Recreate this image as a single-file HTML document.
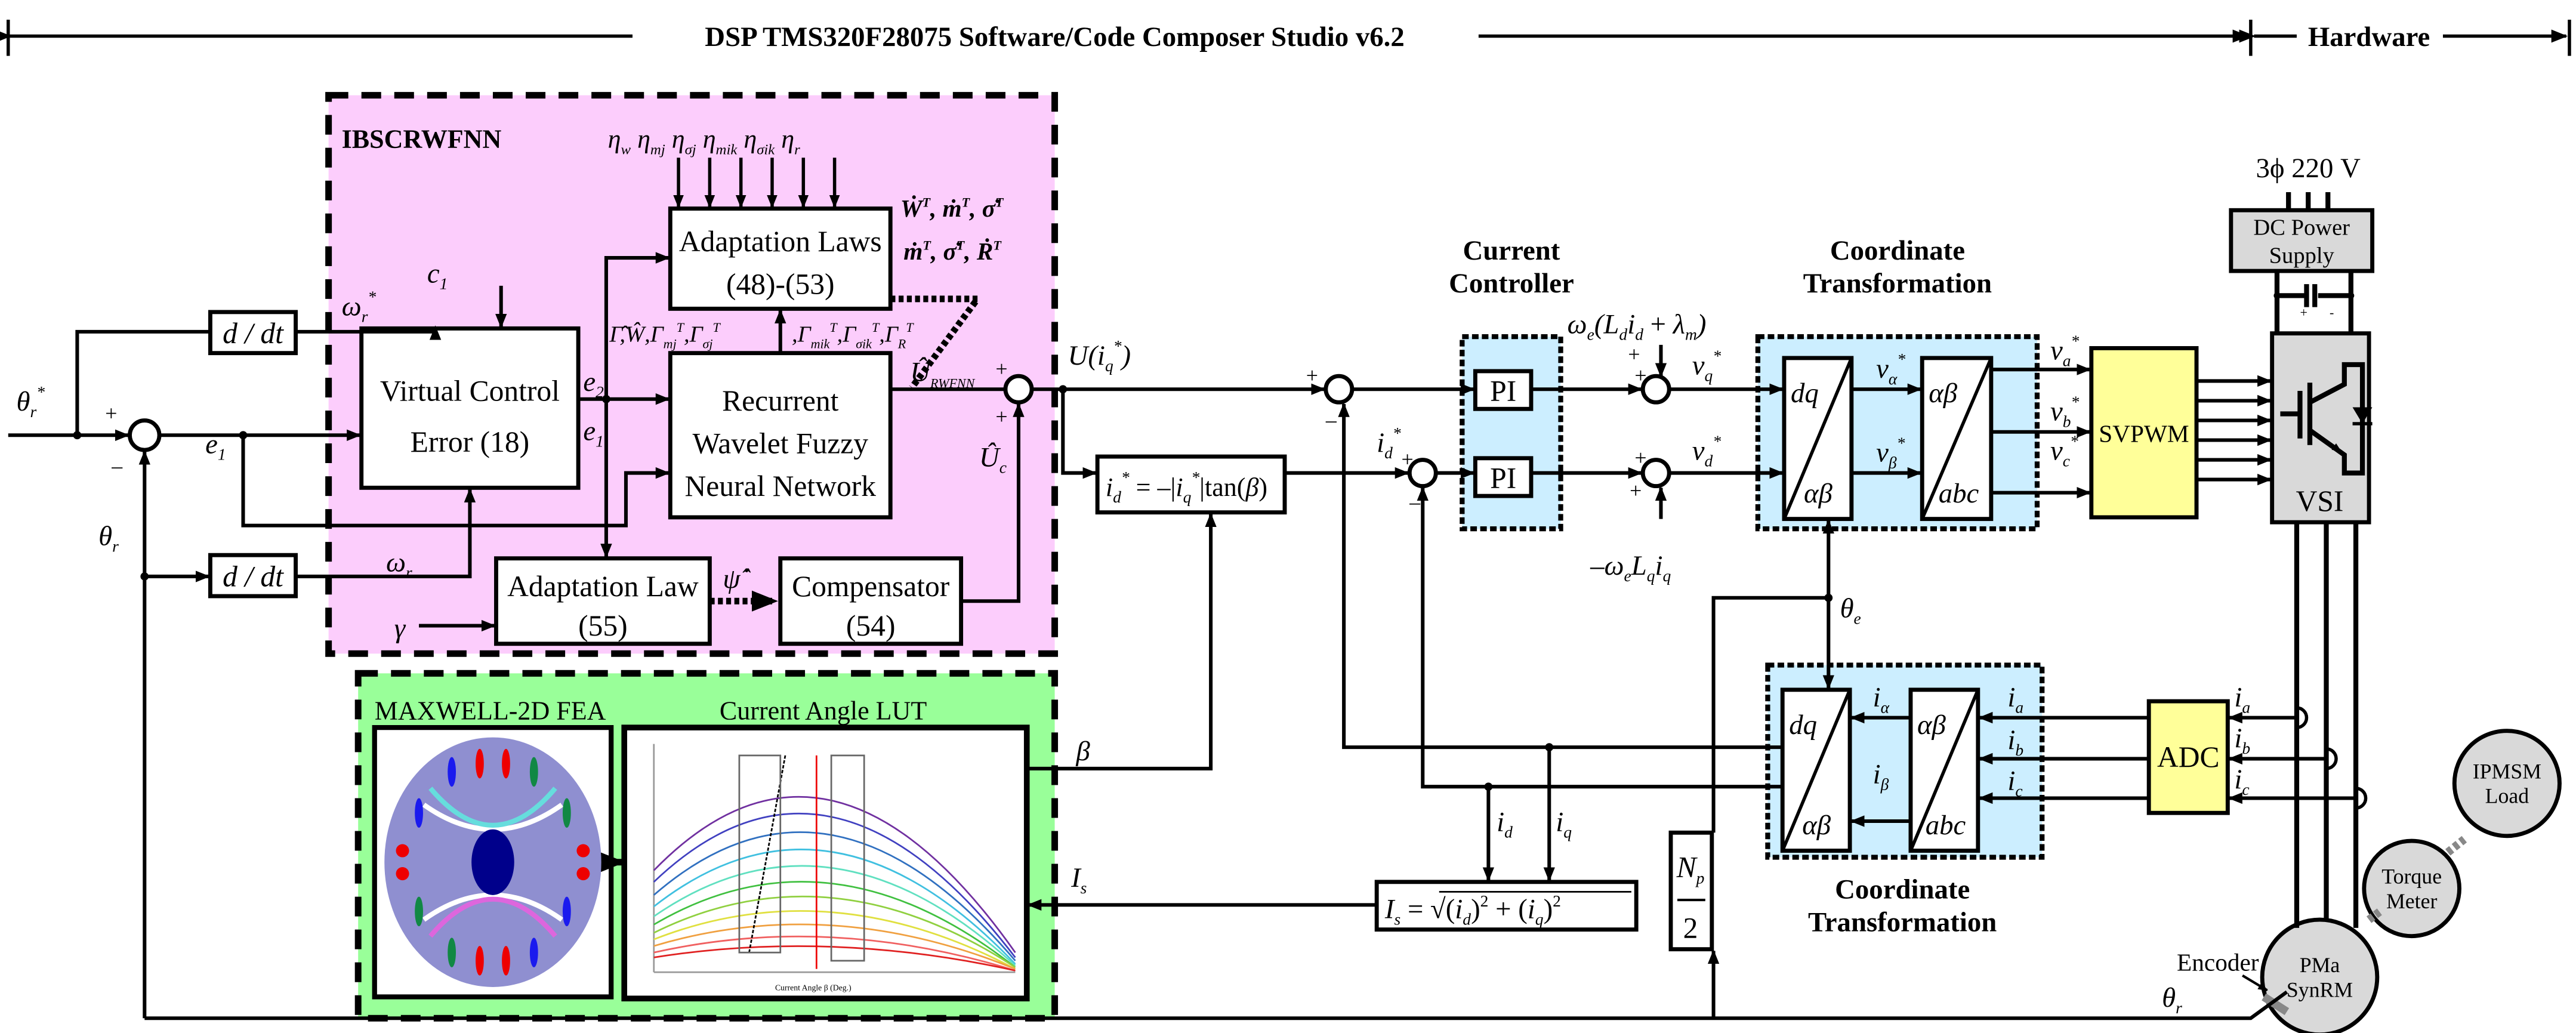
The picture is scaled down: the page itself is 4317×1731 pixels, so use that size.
<!DOCTYPE html>
<html><head><meta charset="utf-8"><style>
html,body{margin:0;padding:0;background:#fff}
svg{display:block}
text{font-family:"Liberation Serif",serif}
.i{font-style:italic}
</style></head><body>
<svg width="4317" height="1731" viewBox="0 0 1568 629" preserveAspectRatio="none" xmlns="http://www.w3.org/2000/svg">
<defs>
<marker id="a" viewBox="0 0 10 10" refX="9" refY="5" markerWidth="4" markerHeight="4" orient="auto"><path d="M0,1L10,5L0,9z" fill="#000"/></marker>
<marker id="b" viewBox="0 0 10 10" refX="9" refY="5" markerWidth="5" markerHeight="5" orient="auto"><path d="M0,1L10,5L0,9z" fill="#000"/></marker>
</defs>
<g stroke="#000" fill="none">
<line x1="5" y1="12" x2="5" y2="34" stroke-width="2"/>
<line x1="6" y1="22" x2="385" y2="22" stroke-width="2" marker-start="url(#b)"/>
<line x1="900" y1="22" x2="1368" y2="22" stroke-width="2" marker-end="url(#b)"/>
<line x1="1370" y1="12" x2="1370" y2="34" stroke-width="2"/>
<line x1="1372" y1="22" x2="1398" y2="22" stroke-width="2" marker-start="url(#b)"/>
<line x1="1487" y1="22" x2="1562" y2="22" stroke-width="2" marker-end="url(#b)"/>
<line x1="1564" y1="12" x2="1564" y2="34" stroke-width="2"/>
</g>
<text x="642" y="28" font-size="17" font-weight="bold" text-anchor="middle">DSP TMS320F28075 Software/Code Composer Studio v6.2</text>
<text x="1442" y="28" font-size="17" font-weight="bold" text-anchor="middle">Hardware</text>

<rect x="200" y="58" width="442" height="340" fill="#fccdfc" stroke="#000" stroke-width="4" stroke-dasharray="12,8"/>
<text x="208" y="90" font-size="16" font-weight="bold">IBSCRWFNN</text>
<rect x="218" y="410" width="424" height="210" fill="#99ff99" stroke="#000" stroke-width="4" stroke-dasharray="12,8"/>
<text x="228" y="438" font-size="16">MAXWELL-2D FEA</text>
<text x="438" y="438" font-size="16">Current Angle LUT</text>
<rect x="890" y="205" width="60" height="117" fill="#cceeff" stroke="#000" stroke-width="3" stroke-dasharray="4,2"/>
<rect x="1070" y="205" width="170" height="117" fill="#cceeff" stroke="#000" stroke-width="3" stroke-dasharray="4,2"/>
<rect x="1076" y="405" width="167" height="117" fill="#cceeff" stroke="#000" stroke-width="3" stroke-dasharray="4,2"/>
<text x="920" y="158" font-size="17" font-weight="bold" text-anchor="middle">Current</text>
<text x="920" y="178" font-size="17" font-weight="bold" text-anchor="middle">Controller</text>
<text x="1155" y="158" font-size="17" font-weight="bold" text-anchor="middle">Coordinate</text>
<text x="1155" y="178" font-size="17" font-weight="bold" text-anchor="middle">Transformation</text>
<text x="1158" y="547" font-size="17" font-weight="bold" text-anchor="middle">Coordinate</text>
<text x="1158" y="567" font-size="17" font-weight="bold" text-anchor="middle">Transformation</text>

<g stroke="#000" stroke-width="2.5" fill="#fff">
<rect x="128" y="190" width="52" height="25"/>
<rect x="128" y="338" width="52" height="25"/>
<rect x="220" y="200" width="132" height="97"/>
<rect x="408" y="127" width="134" height="61"/>
<rect x="408" y="215" width="134" height="100"/>
<rect x="302" y="340" width="130" height="52"/>
<rect x="475" y="340" width="110" height="52"/>
<rect x="668" y="278" width="114" height="34"/>
<rect x="898" y="226" width="34" height="23"/>
<rect x="898" y="279" width="34" height="23"/>
<rect x="1086" y="218" width="41" height="98"/>
<rect x="1170" y="218" width="42" height="98"/>
<rect x="1085" y="420" width="41" height="98"/>
<rect x="1163" y="420" width="41" height="98"/>
<rect x="838" y="537" width="158" height="29"/>
<rect x="1017" y="507" width="25" height="71"/>
<rect x="228" y="443" width="144" height="164" stroke-width="3"/>
<rect x="380" y="443" width="245" height="165" stroke-width="3.5"/>
<rect x="1273" y="212" width="64" height="103" fill="#ffff99"/>
<rect x="1308" y="427" width="48" height="68" fill="#ffff99"/>
<rect x="1383" y="203" width="59" height="115" fill="#d9d9d9"/>
<rect x="1358" y="128" width="86" height="37" fill="#d9d9d9"/>
<circle cx="88" cy="265" r="9"/>
<circle cx="620" cy="237" r="8"/>
<circle cx="815" cy="237" r="8"/>
<circle cx="866" cy="288" r="8"/>
<circle cx="1008" cy="237" r="8"/>
<circle cx="1008" cy="288" r="8"/>
<circle cx="1526" cy="477" r="32" fill="#d9d9d9"/>
<circle cx="1468" cy="541" r="29" fill="#d9d9d9"/>
<circle cx="1412" cy="595" r="35" fill="#d9d9d9"/>
</g>
<g stroke="#000" stroke-width="2">
<line x1="1086" y1="316" x2="1127" y2="218"/><line x1="1170" y1="316" x2="1212" y2="218"/>
<line x1="1085" y1="518" x2="1126" y2="420"/><line x1="1163" y1="518" x2="1204" y2="420"/>
</g>
<g stroke="#888" stroke-width="5"><line x1="1442" y1="560" x2="1450" y2="554" stroke-dasharray="3,2"/><line x1="1490" y1="519" x2="1500" y2="511" stroke-dasharray="3,2"/><line x1="1378" y1="607" x2="1392" y2="616"/></g>

<g stroke="#000" stroke-width="2.2" fill="none">
<line x1="5" y1="265" x2="78" y2="265" marker-end="url(#a)"/>
<polyline points="47,265 47,202 128,202"/>
<polyline points="180,202 265,202 265,199" marker-end="url(#a)"/>
<line x1="305" y1="174" x2="305" y2="199" marker-end="url(#a)"/>
<line x1="97" y1="265" x2="219" y2="265" marker-end="url(#a)"/>
<polyline points="148,265 148,320 381,320 381,288 407,288" marker-end="url(#a)"/>
<line x1="352" y1="243" x2="407" y2="243" marker-end="url(#a)"/>
<polyline points="369,243 369,157 407,157" marker-end="url(#a)"/>
<line x1="369" y1="243" x2="369" y2="339" marker-end="url(#a)"/>
<line x1="88" y1="620" x2="88" y2="275" marker-end="url(#a)"/>
<line x1="88" y1="351" x2="127" y2="351" marker-end="url(#a)"/>
<polyline points="180,351 286,351 286,298" marker-end="url(#a)"/>
<line x1="255" y1="381" x2="301" y2="381" marker-end="url(#a)"/>
<line x1="475" y1="215" x2="475" y2="189" marker-end="url(#a)"/>
<line x1="542" y1="237" x2="611" y2="237"/>
<polyline points="585,366 620,366 620,246" marker-end="url(#a)"/>
<line x1="628" y1="237" x2="806" y2="237" marker-end="url(#a)"/>
<polyline points="647,237 647,288 667,288" marker-end="url(#a)"/>
<line x1="782" y1="288" x2="857" y2="288" marker-end="url(#a)"/>
<line x1="823" y1="237" x2="897" y2="237" marker-end="url(#a)"/>
<line x1="874" y1="288" x2="897" y2="288" marker-end="url(#a)"/>
<line x1="932" y1="237" x2="999" y2="237" marker-end="url(#a)"/>
<line x1="932" y1="288" x2="999" y2="288" marker-end="url(#a)"/>
<line x1="1011" y1="210" x2="1011" y2="229" marker-end="url(#a)"/>
<line x1="1011" y1="316" x2="1011" y2="297" marker-end="url(#a)"/>
<line x1="1016" y1="237" x2="1085" y2="237" marker-end="url(#a)"/>
<line x1="1016" y1="288" x2="1085" y2="288" marker-end="url(#a)"/>
<line x1="1127" y1="237" x2="1169" y2="237" marker-end="url(#a)"/>
<line x1="1127" y1="288" x2="1169" y2="288" marker-end="url(#a)"/>
<line x1="1212" y1="225" x2="1272" y2="225" marker-end="url(#a)"/>
<line x1="1212" y1="263" x2="1272" y2="263" marker-end="url(#a)"/>
<line x1="1212" y1="300" x2="1272" y2="300" marker-end="url(#a)"/>
<line x1="1337" y1="232" x2="1382" y2="232" marker-end="url(#a)"/>
<line x1="1337" y1="244" x2="1382" y2="244" marker-end="url(#a)"/>
<line x1="1337" y1="256" x2="1382" y2="256" marker-end="url(#a)"/>
<line x1="1337" y1="268" x2="1382" y2="268" marker-end="url(#a)"/>
<line x1="1337" y1="280" x2="1382" y2="280" marker-end="url(#a)"/>
<line x1="1337" y1="292" x2="1382" y2="292" marker-end="url(#a)"/>
<line x1="1113" y1="364" x2="1113" y2="317" marker-end="url(#a)"/>
<line x1="1113" y1="364" x2="1113" y2="419" marker-end="url(#a)"/>
<polyline points="1113,364 1043,364 1043,507"/>
<line x1="1043" y1="620" x2="1043" y2="579" marker-end="url(#a)"/>
<polyline points="1086,455 818,455 818,246" marker-end="url(#a)"/>
<polyline points="1086,479 866,479 866,297" marker-end="url(#a)"/>
<line x1="943" y1="455" x2="943" y2="536" marker-end="url(#a)"/>
<line x1="906" y1="479" x2="906" y2="536" marker-end="url(#a)"/>
<line x1="838" y1="551" x2="626" y2="551" marker-end="url(#a)"/>
<polyline points="625,468 737,468 737,313" marker-end="url(#a)"/>
<line x1="372" y1="525" x2="379" y2="525" stroke-width="4" marker-end="url(#a)"/>
<polyline points="88,620 1370,620 1392,604"/>
<line x1="1163" y1="437" x2="1127" y2="437" marker-end="url(#a)"/>
<line x1="1163" y1="500" x2="1127" y2="500" marker-end="url(#a)"/>
<line x1="1308" y1="437" x2="1205" y2="437" marker-end="url(#a)"/>
<line x1="1308" y1="462" x2="1205" y2="462" marker-end="url(#a)"/>
<line x1="1308" y1="486" x2="1205" y2="486" marker-end="url(#a)"/>
<line x1="1398" y1="437" x2="1357" y2="437" marker-end="url(#a)"/>
<line x1="1416" y1="462" x2="1357" y2="462" marker-end="url(#a)"/>
<line x1="1434" y1="486" x2="1357" y2="486" marker-end="url(#a)"/>
<line x1="1365" y1="594" x2="1380" y2="603" stroke-width="1.5" marker-end="url(#a)"/>
</g>
<g stroke="#000" stroke-width="3" fill="none">
<line x1="1398" y1="318" x2="1398" y2="565"/>
<line x1="1416" y1="318" x2="1416" y2="561"/>
<line x1="1434" y1="318" x2="1434" y2="565"/>
<line x1="1393" y1="117" x2="1393" y2="128"/><line x1="1405" y1="117" x2="1405" y2="128"/><line x1="1417" y1="117" x2="1417" y2="128"/>
<line x1="1386" y1="165" x2="1386" y2="203"/><line x1="1431" y1="165" x2="1431" y2="203"/>
<line x1="1386" y1="180" x2="1404" y2="180"/><line x1="1411" y1="180" x2="1431" y2="180"/>
<line x1="1404" y1="173" x2="1404" y2="187"/><line x1="1409" y1="173" x2="1409" y2="187"/>
<path d="M1398,431 a6,6 0 0 1 0,12" stroke-width="2"/>
<path d="M1416,456 a6,6 0 0 1 0,12" stroke-width="2"/>
<path d="M1434,480 a6,6 0 0 1 0,12" stroke-width="2"/>
<line x1="1400" y1="238" x2="1400" y2="267"/><line x1="1406" y1="233" x2="1406" y2="271"/>
<line x1="1388" y1="252" x2="1400" y2="252"/>
<polyline points="1406,245 1427,234 1427,222 1438,222 1438,288 1427,288 1427,277 1406,262"/>
<line x1="1408" y1="263" x2="1425" y2="275" stroke-width="1.5" marker-end="url(#a)"/>
</g>
<path d="M1432,248 L1444,248 L1438,258 Z" fill="#000"/>
<line x1="1432" y1="258" x2="1444" y2="258" stroke="#000" stroke-width="2"/>
<g stroke="#000" stroke-width="4" stroke-dasharray="3,2" fill="none">
<polyline points="542,182 595,182 555,236"/>
<line x1="432" y1="366" x2="472" y2="366" marker-end="url(#a)"/>
</g>
<g stroke="#000" stroke-width="2">
<line x1="413" y1="96" x2="413" y2="126" marker-end="url(#a)"/>
<line x1="432" y1="96" x2="432" y2="126" marker-end="url(#a)"/>
<line x1="451" y1="96" x2="451" y2="126" marker-end="url(#a)"/>
<line x1="470" y1="96" x2="470" y2="126" marker-end="url(#a)"/>
<line x1="489" y1="96" x2="489" y2="126" marker-end="url(#a)"/>
<line x1="508" y1="96" x2="508" y2="126" marker-end="url(#a)"/>
</g>
<g fill="#000"><circle cx="47" cy="265" r="2.5"/><circle cx="148" cy="265" r="2.5"/><circle cx="88" cy="351" r="2.5"/><circle cx="369" cy="243" r="2.5"/><circle cx="647" cy="237" r="2.5"/><circle cx="1113" cy="364" r="2.5"/><circle cx="943" cy="455" r="2.5"/><circle cx="906" cy="479" r="2.5"/><circle cx="1386" cy="180" r="2"/><circle cx="1431" cy="180" r="2"/></g>

<ellipse cx="300" cy="525" rx="66" ry="76" fill="#8f8fd0"/>
<g fill="none" stroke-width="3"><path d="M258,490 q42,30 84,0" stroke="#fff"/><path d="M258,560 q42,-30 84,0" stroke="#fff"/><path d="M262,480 q38,45 76,0" stroke="#66dddd"/><path d="M262,570 q38,-45 76,0" stroke="#dd66dd"/></g>
<ellipse cx="300" cy="525" rx="13" ry="20" fill="#00008b"/>
<g fill="#e00"><ellipse cx="292" cy="465" rx="2.5" ry="9"/><ellipse cx="308" cy="465" rx="2.5" ry="9"/><ellipse cx="292" cy="585" rx="2.5" ry="9"/><ellipse cx="308" cy="585" rx="2.5" ry="9"/><circle cx="245" cy="518" r="4"/><circle cx="245" cy="532" r="4"/><circle cx="355" cy="518" r="4"/><circle cx="355" cy="532" r="4"/></g>
<g fill="#1a1aee"><ellipse cx="275" cy="470" rx="2.5" ry="9"/><ellipse cx="325" cy="580" rx="2.5" ry="9"/><ellipse cx="255" cy="495" rx="2.5" ry="9"/><ellipse cx="345" cy="555" rx="2.5" ry="9"/></g>
<g fill="#118844"><ellipse cx="325" cy="470" rx="2.5" ry="9"/><ellipse cx="275" cy="580" rx="2.5" ry="9"/><ellipse cx="345" cy="495" rx="2.5" ry="9"/><ellipse cx="255" cy="555" rx="2.5" ry="9"/></g>
<g fill="none" stroke-width="1">
<line x1="398" y1="453" x2="398" y2="592" stroke="#999"/><line x1="398" y1="592" x2="618" y2="592" stroke="#999"/>
<path d="M398,530 Q505,420 618,580" stroke="#7030a0"/>
<path d="M398,537 Q505,435 618,583" stroke="#4040c0"/>
<path d="M398,545 Q505,452 618,585" stroke="#3070c0"/>
<path d="M398,552 Q505,468 618,587" stroke="#40c0e0"/>
<path d="M398,558 Q505,484 618,588" stroke="#60e0c0"/>
<path d="M398,563 Q505,500 618,589" stroke="#40c040"/>
<path d="M398,568 Q505,515 618,589" stroke="#90d040"/>
<path d="M398,572 Q505,530 618,590" stroke="#e0e040"/>
<path d="M398,576 Q505,544 618,590" stroke="#f0a040"/>
<path d="M398,580 Q505,556 618,591" stroke="#f06060"/>
<path d="M398,583 Q505,566 618,591" stroke="#e02020"/>
<line x1="456" y1="580" x2="478" y2="460" stroke="#000" stroke-dasharray="2,1"/>
<line x1="497" y1="460" x2="497" y2="590" stroke="#e00"/>
<rect x="450" y="460" width="25" height="120" stroke="#666"/><rect x="506" y="460" width="20" height="125" stroke="#666"/>
</g>
<text x="495" y="603" font-size="5" text-anchor="middle">Current Angle β (Deg.)</text>

<g font-size="18" text-anchor="middle">
<text x="154" y="209" class="i">d / dt</text>
<text x="154" y="357" class="i">d / dt</text>
<text x="286" y="244">Virtual Control</text><text x="286" y="275">Error (18)</text>
<text x="475" y="153">Adaptation Laws</text><text x="475" y="179">(48)-(53)</text>
<text x="475" y="250">Recurrent</text><text x="475" y="276">Wavelet Fuzzy</text><text x="475" y="302">Neural Network</text>
<text x="367" y="363">Adaptation Law</text><text x="367" y="387">(55)</text>
<text x="530" y="363">Compensator</text><text x="530" y="387">(54)</text>
<text x="915" y="244">PI</text><text x="915" y="297">PI</text>
<text x="1305" y="269" font-size="15">SVPWM</text>
<text x="1332" y="467">ADC</text>
<text x="1412" y="311">VSI</text>
<text x="1401" y="143" font-size="14">DC Power</text><text x="1401" y="160" font-size="14">Supply</text>
<text x="1405" y="108" font-size="17">3ϕ  220 V</text>
<text x="1412" y="592" font-size="13">PMa</text><text x="1412" y="607" font-size="13">SynRM</text>
<text x="1468" y="538" font-size="13">Torque</text><text x="1468" y="553" font-size="13">Meter</text>
<text x="1526" y="474" font-size="13">IPMSM</text><text x="1526" y="489" font-size="13">Load</text>
<text x="1350" y="591" font-size="15">Encoder</text>
<text x="1029" y="534" class="i">N<tspan font-size="10" dy="4">p</tspan></text>
<text x="1029" y="571">2</text>
</g>
<line x1="1021" y1="548" x2="1038" y2="548" stroke="#000" stroke-width="1.5"/>
<text x="1400" y="193" font-size="8">+</text><text x="1418" y="193" font-size="8">-</text>

<g font-size="17" class="i">
<text x="10" y="250">θ<tspan font-size="10" dy="4">r</tspan><tspan font-size="10" dy="-12">*</tspan></text>
<text x="64" y="256" font-size="13" font-style="normal">+</text>
<text x="68" y="288" font-size="13" font-style="normal">–</text>
<text x="60" y="332">θ<tspan font-size="10" dy="4">r</tspan></text>
<text x="125" y="276">e<tspan font-size="10" dy="4">1</tspan></text>
<text x="208" y="192">ω<tspan font-size="10" dy="4">r</tspan><tspan font-size="10" dy="-12">*</tspan></text>
<text x="260" y="172">c<tspan font-size="10" dy="4">1</tspan></text>
<text x="355" y="238">e<tspan font-size="10" dy="4">2</tspan></text>
<text x="355" y="268">e<tspan font-size="10" dy="4">1</tspan></text>
<text x="235" y="348">ω<tspan font-size="10" dy="4">r</tspan></text>
<text x="240" y="388">γ</text>
<text x="370" y="90" font-size="16">η<tspan font-size="9" dy="4">w</tspan><tspan dy="-4"> η</tspan><tspan font-size="9" dy="4">mj</tspan><tspan dy="-4"> η</tspan><tspan font-size="9" dy="4">σj</tspan><tspan dy="-4"> η</tspan><tspan font-size="9" dy="4">mik</tspan><tspan dy="-4"> η</tspan><tspan font-size="9" dy="4">σik</tspan><tspan dy="-4"> η</tspan><tspan font-size="9" dy="4">r</tspan></text>
<text x="548" y="132" font-size="15" font-weight="bold">Ẇ<tspan font-size="8" dy="-6">T</tspan><tspan dy="6">, ṁ</tspan><tspan font-size="8" dy="-6">T</tspan><tspan dy="6">, σ̇</tspan><tspan font-size="8" dy="-6">T</tspan></text>
<text x="550" y="158" font-size="15" font-weight="bold">ṁ<tspan font-size="8" dy="-6">T</tspan><tspan dy="6">, σ̇</tspan><tspan font-size="8" dy="-6">T</tspan><tspan dy="6">, Ṙ</tspan><tspan font-size="8" dy="-6">T</tspan></text>
<text x="371" y="208" font-size="14">Γ̂,Ŵ,Γ<tspan font-size="8" dy="4">mj</tspan><tspan font-size="8" dy="-10">T</tspan><tspan dy="6">,Γ</tspan><tspan font-size="8" dy="4">σj</tspan><tspan font-size="8" dy="-10">T</tspan></text>
<text x="482" y="208" font-size="14">,Γ<tspan font-size="8" dy="4">mik</tspan><tspan font-size="8" dy="-10">T</tspan><tspan dy="6">,Γ</tspan><tspan font-size="8" dy="4">σik</tspan><tspan font-size="8" dy="-10">T</tspan><tspan dy="6">,Γ</tspan><tspan font-size="8" dy="4">R</tspan><tspan font-size="8" dy="-10">T</tspan></text>
<text x="554" y="232">Û<tspan font-size="8" dy="4">RWFNN</tspan></text>
<text x="606" y="229" font-size="13" font-style="normal">+</text>
<text x="606" y="258" font-size="13" font-style="normal">+</text>
<text x="596" y="284">Û<tspan font-size="10" dy="4">c</tspan></text>
<text x="650" y="222">U(i<tspan font-size="10" dy="4">q</tspan><tspan font-size="10" dy="-12">*</tspan><tspan dy="8">)</tspan></text>
<text x="795" y="233" font-size="13" font-style="normal">+</text>
<text x="807" y="260" font-size="13" font-style="normal">–</text>
<text x="838" y="275">i<tspan font-size="10" dy="4">d</tspan><tspan font-size="10" dy="-12">*</tspan></text>
<text x="853" y="284" font-size="13" font-style="normal">+</text>
<text x="858" y="310" font-size="13" font-style="normal">–</text>
<text x="673" y="302" font-size="16">i<tspan font-size="10" dy="4">d</tspan><tspan font-size="10" dy="-12">*</tspan><tspan dy="8" font-style="normal"> = –|</tspan>i<tspan font-size="10" dy="4">q</tspan><tspan font-size="10" dy="-12">*</tspan><tspan dy="8" font-style="normal">|tan(</tspan>β<tspan font-style="normal">)</tspan></text>
<text x="954" y="203">ω<tspan font-size="10" dy="4">e</tspan><tspan dy="-4">(L</tspan><tspan font-size="10" dy="4">d</tspan><tspan dy="-4">i</tspan><tspan font-size="10" dy="4">d</tspan><tspan dy="-4" font-style="normal"> + </tspan>λ<tspan font-size="10" dy="4">m</tspan><tspan dy="-4">)</tspan></text>
<text x="991" y="220" font-size="13" font-style="normal">+</text>
<text x="995" y="233" font-size="13" font-style="normal">+</text>
<text x="995" y="283" font-size="13" font-style="normal">+</text>
<text x="992" y="303" font-size="13" font-style="normal">+</text>
<text x="968" y="350">–ω<tspan font-size="10" dy="4">e</tspan><tspan dy="-4">L</tspan><tspan font-size="10" dy="4">q</tspan><tspan dy="-4">i</tspan><tspan font-size="10" dy="4">q</tspan></text>
<text x="1030" y="228">v<tspan font-size="10" dy="4">q</tspan><tspan font-size="10" dy="-12">*</tspan></text>
<text x="1030" y="280">v<tspan font-size="10" dy="4">d</tspan><tspan font-size="10" dy="-12">*</tspan></text>
<text x="1142" y="230">v<tspan font-size="10" dy="4">α</tspan><tspan font-size="10" dy="-12">*</tspan></text>
<text x="1142" y="281">v<tspan font-size="10" dy="4">β</tspan><tspan font-size="10" dy="-12">*</tspan></text>
<text x="1090" y="245">dq</text><text x="1098" y="306">αβ</text>
<text x="1174" y="245">αβ</text><text x="1180" y="306">abc</text>
<text x="1089" y="447">dq</text><text x="1097" y="508">αβ</text>
<text x="1167" y="447">αβ</text><text x="1172" y="508">abc</text>
<text x="1248" y="219">v<tspan font-size="10" dy="4">a</tspan><tspan font-size="10" dy="-12">*</tspan></text>
<text x="1248" y="256">v<tspan font-size="10" dy="4">b</tspan><tspan font-size="10" dy="-12">*</tspan></text>
<text x="1248" y="280">v<tspan font-size="10" dy="4">c</tspan><tspan font-size="10" dy="-12">*</tspan></text>
<text x="1120" y="376">θ<tspan font-size="10" dy="4">e</tspan></text>
<text x="1140" y="430">i<tspan font-size="10" dy="4">α</tspan></text>
<text x="1140" y="477">i<tspan font-size="10" dy="4">β</tspan></text>
<text x="1222" y="430">i<tspan font-size="10" dy="4">a</tspan></text>
<text x="1222" y="456">i<tspan font-size="10" dy="4">b</tspan></text>
<text x="1222" y="481">i<tspan font-size="10" dy="4">c</tspan></text>
<text x="1360" y="430">i<tspan font-size="10" dy="4">a</tspan></text>
<text x="1360" y="455">i<tspan font-size="10" dy="4">b</tspan></text>
<text x="1360" y="480">i<tspan font-size="10" dy="4">c</tspan></text>
<text x="655" y="463">β</text>
<text x="652" y="540">I<tspan font-size="10" dy="4">s</tspan></text>
<text x="911" y="506">i<tspan font-size="10" dy="4">d</tspan></text>
<text x="947" y="506">i<tspan font-size="10" dy="4">q</tspan></text>
<text x="843" y="559">I<tspan font-size="10" dy="4">s</tspan><tspan dy="-4" font-style="normal"> = √(</tspan>i<tspan font-size="10" dy="4">d</tspan><tspan dy="-4" font-style="normal">)</tspan><tspan font-size="10" dy="-7" font-style="normal">2</tspan><tspan dy="7" font-style="normal"> + (</tspan>i<tspan font-size="10" dy="4">q</tspan><tspan dy="-4" font-style="normal">)</tspan><tspan font-size="10" dy="-7" font-style="normal">2</tspan></text>
<text x="1316" y="613">θ<tspan font-size="10" dy="4">r</tspan></text>
<text x="440" y="358">ψ̂̇</text>
</g>
<line x1="876" y1="543" x2="993" y2="543" stroke="#000" stroke-width="1"/>
</svg>
</body></html>
